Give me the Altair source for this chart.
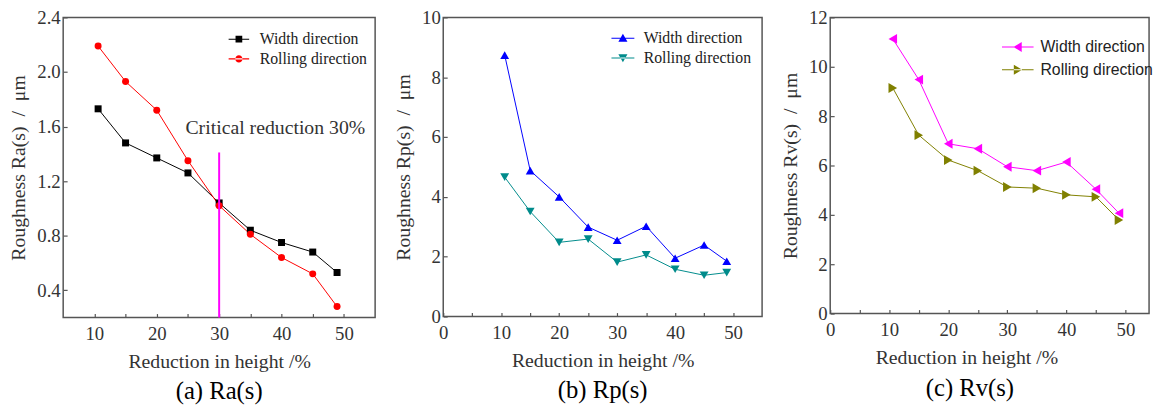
import altair as alt
import pandas as pd

# ---------------- data ----------------
reduction = [10.6, 15, 20, 25, 30, 35, 40, 45, 48.9]
series = ["Width direction", "Rolling direction"]

ra_width = [1.73, 1.48, 1.37, 1.26, 1.04, 0.84, 0.75, 0.68, 0.53]
ra_rolling = [2.19, 1.93, 1.72, 1.35, 1.02, 0.81, 0.64, 0.52, 0.28]
rp_width = [8.74, 4.88, 4.00, 2.99, 2.55, 3.02, 1.95, 2.39, 1.85]
rp_rolling = [4.66, 3.51, 2.48, 2.59, 1.82, 2.06, 1.58, 1.38, 1.47]
rv_width = [11.13, 9.48, 6.88, 6.68, 5.95, 5.79, 6.14, 5.04, 4.07]
rv_rolling = [9.14, 7.23, 6.22, 5.79, 5.13, 5.08, 4.81, 4.73, 3.79]

critical_x = [30]
critical_bottom = [0.2]
critical_top = [1.41]
note_x = [24.6]
note_y = [1.59]
note_text = ["Critical reduction 30%"]

x_ticks_a = [10, 15, 20, 25, 30, 35, 40, 45, 50]
x_ticks_bc = [0, 5, 10, 15, 20, 25, 30, 35, 40, 45, 50]
y_ticks_a = [0.4, 0.8, 1.2, 1.6, 2.0, 2.4]
y_ticks_b = [0, 2, 4, 6, 8, 10]
y_ticks_c = [0, 2, 4, 6, 8, 10, 12]

SERIF = "Liberation Serif"
SANS = "Liberation Sans"


def long_df(width_vals, rolling_vals):
    rows = []
    for s, vals in zip(series, [width_vals, rolling_vals]):
        for r, v in zip(reduction, vals):
            rows.append({"reduction": r, "value": v, "series": s})
    return pd.DataFrame(rows)


def panel(df, x_dom, x_vals, y_dom, y_vals, y_fmt, ytitle, subtitle,
          colors, shapes, pt_size, legend_paths, legend_font, legend_size,
          legend_x, legend_y, row_pad, label_off, w, h, extra=None, title_x=None,
          sub_dx=0):
    xaxis_kw = dict(values=x_vals, labelExpr="datum.value % 10 == 0 ? datum.label : ''",
                    title="Reduction in height /%", offset=-4, tickSize=4,
                    labelPadding=7, titlePadding=9, labelFlush=False,
                    labelOverlap=False, format="d")
    if title_x is not None:
        xaxis_kw["titleX"] = title_x
    x = alt.X("reduction:Q", scale=alt.Scale(domain=x_dom, nice=False, zero=False),
              axis=alt.Axis(**xaxis_kw))
    y = alt.Y("value:Q", scale=alt.Scale(domain=y_dom, nice=False, zero=False),
              axis=alt.Axis(values=y_vals, format=y_fmt, title=ytitle, offset=-4,
                            tickSize=4, labelPadding=3, titlePadding=8,
                            labelFlush=False, labelOverlap=False))
    leg = alt.Legend(title=None, orient="none", legendX=legend_x, legendY=legend_y,
                     symbolSize=64, symbolStrokeWidth=0, symbolOffset=10,
                     labelOffset=label_off, labelFont=legend_font, labelFontSize=legend_size,
                     labelColor="#222", rowPadding=row_pad, padding=0,
                     symbolOpacity=1, labelLimit=300)
    color = alt.Color("series:N", scale=alt.Scale(domain=series, range=colors), legend=leg)
    base = alt.Chart(df)
    line = base.mark_line(strokeWidth=1).encode(x=x, y=y, color=color)
    pt_layers = []
    for s, shp in zip(series, shapes):
        pt_layers.append(
            base.mark_point(filled=True, size=pt_size, opacity=1, shape=shp)
            .encode(x=x, y=y, color=color)
            .transform_filter(alt.datum.series == s)
        )
    legend_layer = base.mark_point(filled=True, opacity=1).encode(
        x=x, y=y, color=color,
        shape=alt.Shape("series:N", scale=alt.Scale(domain=series, range=legend_paths), legend=leg),
    ).transform_filter("datum.value < -1000")
    layers = [line] + pt_layers + [legend_layer]
    if extra is not None:
        layers += extra(x, y)
    return alt.layer(*layers).properties(
        width=w, height=h,
        title=alt.TitleParams(subtitle, orient="bottom", font=SERIF, fontSize=25,
                              fontWeight="normal", color="black", offset=8,
                              anchor="middle", frame="group", dx=sub_dx))


def critical_layers(x, y):
    rule_df = pd.DataFrame({"reduction": critical_x, "value": critical_bottom,
                            "value2": critical_top})
    note_df = pd.DataFrame({"reduction": note_x, "value": note_y, "label": note_text})
    rule = alt.Chart(rule_df).mark_rule(color="#FF00FF", strokeWidth=2).encode(
        x=x, y=y, y2="value2:Q")
    note = alt.Chart(note_df).mark_text(align="left", baseline="middle", font=SERIF,
                                        fontSize=20, color="#333").encode(
        x=x, y=y, text="label:N")
    return [rule, note]


NB = "\u00a0"

line_a = "M-2.6,-0.13H2.6V0.13H-2.6Z"
paths_a = [line_a + "M-0.85,-0.85H0.85V0.85H-0.85Z",
           line_a + "M-0.9,0A0.9,0.9,0,1,0,0.9,0A0.9,0.9,0,1,0,-0.9,0Z"]
line_b = "M-2.9,-0.13H2.9V0.13H-2.9Z"
paths_b = [line_b + "M0,-1.1L1.15,0.9H-1.15Z",
           line_b + "M0,1.1L1.15,-0.9H-1.15Z"]
line_c = "M-4,-0.13H4V0.13H-4Z"
paths_c = [line_c + "M-1.1,0L1,-1.25V1.25Z",
           line_c + "M1.1,0L-1,-1.25V1.25Z"]

chart_a = panel(long_df(ra_width, ra_rolling), [5, 55], x_ticks_a, [0.2, 2.4], y_ticks_a, ".1f",
                f"Roughness Ra(s){NB}{NB}/{NB}{NB}μm", "(a) Ra(s)",
                ["#000000", "#FF0000"], ["square", "circle"], 50,
                paths_a, SERIF, 16, 160, 14, 4, 13, 316, 304, extra=critical_layers)
chart_b = panel(long_df(rp_width, rp_rolling), [0, 55], x_ticks_bc, [0, 10], y_ticks_b, "d",
                f"Roughness Rp(s){NB}{NB}/{NB}{NB}μm", "(b) Rp(s)",
                ["#0000FF", "#008B8B"], ["triangle-up", "triangle-down"], 80,
                paths_b, SERIF, 16, 164, 13, 4, 13, 323, 303)
chart_c = panel(long_df(rv_width, rv_rolling), [0, 54], x_ticks_bc, [0, 12], y_ticks_c, "d",
                f"Roughness Rv(s){NB}{NB}/{NB}{NB}μm", "(c) Rv(s)",
                ["#FF00FF", "#808000"], ["triangle-left", "triangle-right"], 100,
                paths_c, SANS, 16, 172, 22, 7, 15, 323, 300, title_x=138, sub_dx=-20)

chart = alt.hconcat(chart_a, chart_b, chart_c, spacing=17).resolve_scale(
    color="independent", shape="independent", x="independent", y="independent"
).resolve_legend(
    color="independent", shape="independent"
).properties(
    padding={"left": 8, "top": 5, "right": 0, "bottom": 0},
    background="white",
).configure_view(stroke="#555555", strokeWidth=1.5).configure_axis(
    grid=False, domain=False, labelFont=SERIF, labelFontSize=19, labelColor="#333333",
    titleFont=SERIF, titleFontSize=20, titleFontWeight="normal", titleColor="#333333",
    tickColor="#555555", tickWidth=1.2)

chart.save("out.html", embed_options={"renderer": "svg", "actions": False})
